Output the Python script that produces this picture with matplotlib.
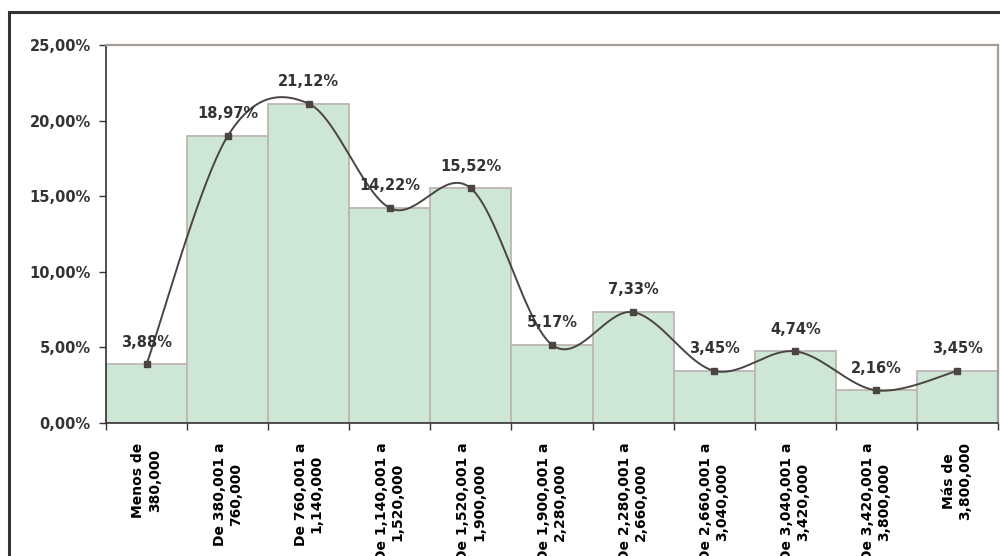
import numpy as np
import matplotlib.pyplot as plt
from matplotlib.patches import Rectangle
from matplotlib.ticker import FuncFormatter

# data
categorias = [
    "Menos de\n380,000",
    "De 380,001 a\n760,000",
    "De 760,001 a\n1,140,000",
    "De 1,140,001 a\n1,520,000",
    "De 1,520,001 a\n1,900,000",
    "De 1,900,001 a\n2,280,000",
    "De 2,280,001 a\n2,660,000",
    "De 2,660,001 a\n3,040,000",
    "De 3,040,001 a\n3,420,000",
    "De 3,420,001 a\n3,800,000",
    "Más de\n3,800,000",
]
porcentajes = [3.88, 18.97, 21.12, 14.22, 15.52, 5.17, 7.33, 3.45, 4.74, 2.16, 3.45]
y_ticks = [0, 5, 10, 15, 20, 25]


def pct(v):
    return f"{v:.2f}".replace(".", ",") + "%"


def smooth_line(xs, ys, n=40):
    # Excel-like smoothed line: cubic bezier with catmull-rom control points
    P = np.column_stack([xs, ys]).astype(float)
    P = np.vstack([P[0], P, P[-1]])
    out = []
    t = np.linspace(0, 1, n)[:, None]
    for i in range(1, len(P) - 2):
        p0, p1, p2, p3 = P[i - 1], P[i], P[i + 1], P[i + 2]
        c1 = p1 + (p2 - p0) / 6
        c2 = p2 - (p3 - p1) / 6
        seg = ((1 - t) ** 3) * p1 + 3 * ((1 - t) ** 2) * t * c1 + 3 * (1 - t) * t ** 2 * c2 + t ** 3 * p2
        out.append(seg if i == 1 else seg[1:])
    out = np.vstack(out)
    return out[:, 0], out[:, 1]


fig = plt.figure(figsize=(10, 5.56), dpi=100)
ax = fig.add_axes([0.106, 1 - 423 / 556, 0.892, (423 - 45) / 556])

x = np.arange(len(categorias))
ax.bar(x, porcentajes, width=1.0, color="#cde6d5", edgecolor="#bdb6b2", linewidth=1.3, zorder=2)

sx, sy = smooth_line(x, porcentajes)
ax.plot(sx, sy, color="#4a4442", lw=1.4, zorder=3)
ax.plot(x, porcentajes, ls="none", marker="s", ms=4.8, color="#4a4442", zorder=4)

for xi, v in zip(x, porcentajes):
    ax.annotate(pct(v), (xi, v), xytext=(0, 16), textcoords="offset points",
                ha="center", va="center", fontsize=10.5, fontweight="bold", color="#333333",
                family="DejaVu Sans", zorder=5)

ax.set_xlim(-0.5, len(categorias) - 0.5)
ax.set_ylim(0, 25)
ax.set_yticks(y_ticks)
ax.yaxis.set_major_formatter(FuncFormatter(lambda v, p: pct(v)))
ax.tick_params(axis="y", direction="out", length=5, width=1, color="#333333", pad=6,
               labelsize=10.5, labelcolor="#333333")
for lab in ax.get_yticklabels():
    lab.set_fontweight("bold")

ax.set_xticks(x)
ax.set_xticklabels(categorias, rotation=90, fontsize=10, fontweight="bold",
                   va="top", ha="center", multialignment="center")
ax.set_xticks(np.arange(-0.5, len(categorias)), minor=True)
ax.tick_params(axis="x", which="major", length=0, pad=14)
ax.tick_params(axis="x", which="minor", direction="out", length=5, width=1, color="#333333")

for side in ["left", "bottom"]:
    ax.spines[side].set_color("#333333")
    ax.spines[side].set_linewidth(1.2)
for side in ["top", "right"]:
    ax.spines[side].set_color("#a39c98")
    ax.spines[side].set_linewidth(1.6)

# outer chart frame
fig.patches.append(Rectangle((9 / 1000, -0.2), 1.5, 1.2 - 12 / 556, transform=fig.transFigure,
                             fill=False, edgecolor="#333333", lw=2.2))

fig.savefig("out.png", dpi=100)
